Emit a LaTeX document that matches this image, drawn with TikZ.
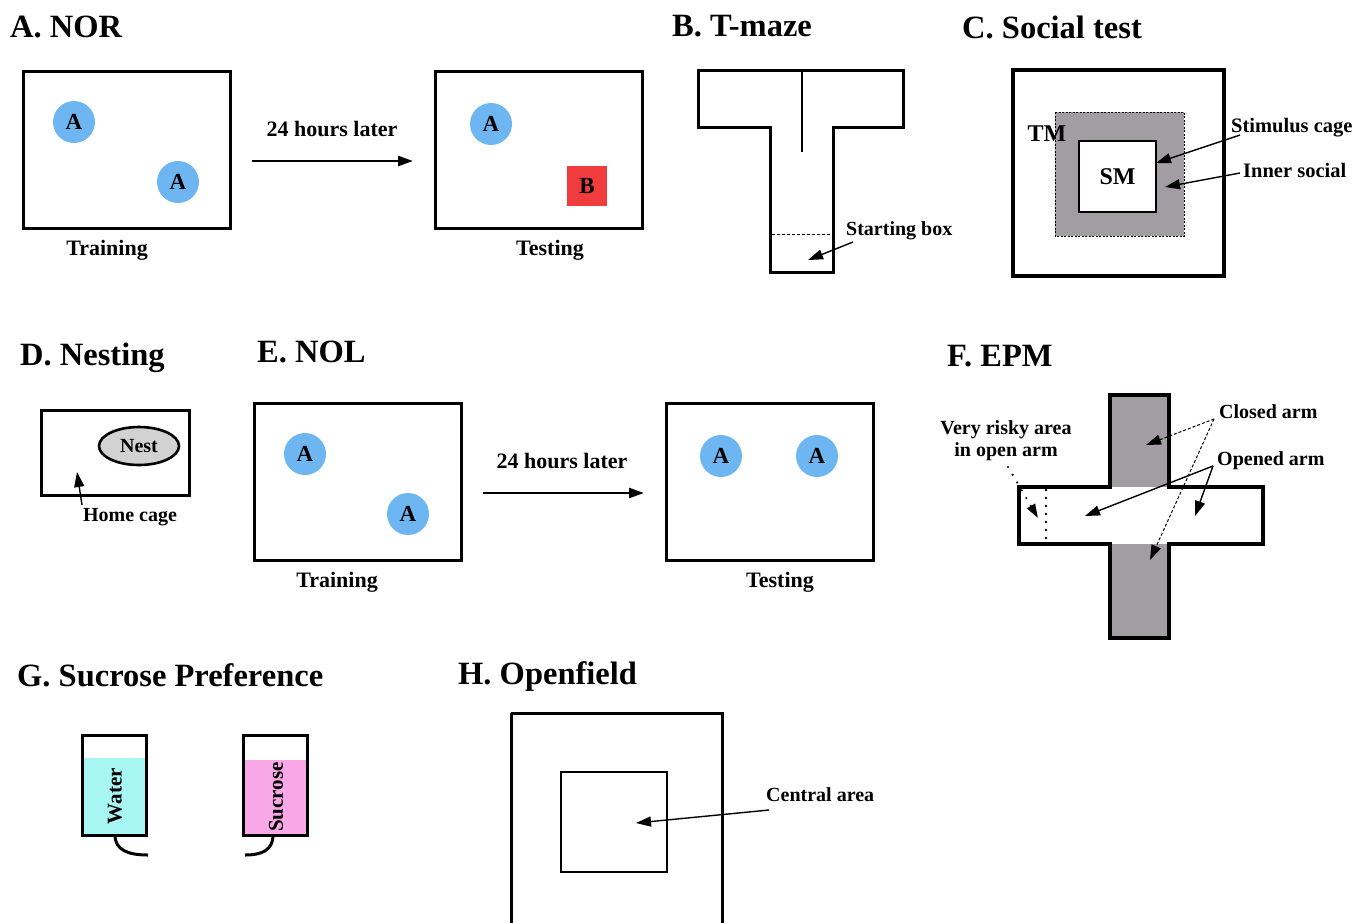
\documentclass[tikz,border=0pt]{standalone}
\usepackage{fontspec}
\setmainfont{Liberation Serif}
\usetikzlibrary{arrows.meta,shapes.geometric}
\definecolor{cblue}{HTML}{6DB6F2}
\definecolor{cred}{HTML}{F03C3C}
\definecolor{cgrey}{HTML}{A29DA2}
\definecolor{lgrey}{HTML}{D2D2D2}
\definecolor{wcyan}{HTML}{A8F6F4}
\definecolor{spink}{HTML}{F8A8E6}
\begin{document}
\begin{tikzpicture}[x=1pt,y=-1pt,
  ttl/.style={font=\bfseries\fontsize{32.5}{32.5}\selectfont, anchor=base west, inner sep=0},
  lbl/.style={font=\bfseries\fontsize{22}{22}\selectfont, inner sep=0},
  slbl/.style={font=\bfseries\fontsize{20}{22}\selectfont, inner sep=0},
  arr/.style={-{Triangle[length=15pt,width=10pt]}, line width=1.4pt},
  darr/.style={-{Triangle[length=15pt,width=10pt]}, line width=1pt, dash pattern=on 3pt off 2pt},
  circ/.style={circle, fill=cblue, minimum size=42pt, inner sep=0, font=\bfseries\fontsize{23}{23}\selectfont},
  arena/.style={draw, line width=3pt, rectangle, inner sep=0, outer sep=0, minimum width=207pt, minimum height=157pt}
]
\useasboundingbox (0,0) rectangle (1367,922);
\clip (0,0) rectangle (1367,922);

% ---------- A. NOR
\node[ttl] (tA) at (10,37) {A. NOR};
\node[arena] (norTr) at (126.5,149.5) {};
\node[circ] (norA1) at (74,122) {A};
\node[circ] (norA2) at (178,182) {A};
\node[lbl] (norTrL) at (107,250) {Training};
\node[arena] (norTe) at (538.5,149.5) {};
\node[circ] (norA3) at (491,124) {A};
\node[rectangle, fill=cred, minimum size=40pt, inner sep=0, font=\bfseries\fontsize{23}{23}\selectfont] (norB) at (587,186) {B};
\node[lbl] (norTeL) at (550,250) {Testing};
\node[lbl] (norT) at (332,129) {24 hours later};
\coordinate (norS) at (252,161);
\coordinate (norE) at (413,161);
\draw[-{Triangle[length=15pt,width=10pt]}, line width=2.6pt] (norS) -- (norE);

% ---------- B. T-maze
\node[ttl] (tB) at (672,36) {B. T-maze};
\draw[line width=3pt] (698,70) -- (903,70) -- (903,127) -- (833,127) -- (833,272) -- (770,272) -- (770,127) -- (698,127) -- cycle;
\draw[line width=2.6pt] (802,70) -- (802,152);
\draw[line width=1pt, dash pattern=on 3pt off 2pt] (772,234) -- (832,234);
\node[slbl, anchor=west] (sbox) at (846,231) {Starting box};
\coordinate (sboxT) at (808,260);
\draw[arr] (853,242) -- (sboxT);

% ---------- C. Social test
\node[ttl] (tC) at (962,38) {C. Social test};
\draw[line width=3.2pt] (1013,70) rectangle (1224,276);
\draw[fill=cgrey, line width=0.8pt, dash pattern=on 2pt off 1.5pt] (1055,112) rectangle (1184,236);
\node[draw, fill=white, line width=1.5pt, minimum width=77pt, minimum height=71pt, inner sep=0, font=\bfseries\fontsize{24}{24}\selectfont] (sm) at (1117.5,176.5) {SM};
\node[font=\bfseries\fontsize{24}{24}\selectfont, inner sep=0] (tm) at (1047,134) {TM};
\node[font=\bfseries\fontsize{20.5}{22}\selectfont, inner sep=0, anchor=west] (stim) at (1231,128) {Stimulus cage};
\node[font=\bfseries\fontsize{20.5}{22}\selectfont, inner sep=0, anchor=west] (inner) at (1243,170) {Inner social};
\coordinate (stimT) at (1156,163);
\coordinate (innerT) at (1165,187);
\draw[arr] (1240,135) -- (stimT);
\draw[arr] (1240,173) -- (innerT);

% ---------- D. Nesting
\node[ttl] (tD) at (20,365) {D. Nesting};
\draw[line width=3pt] (41,410) rectangle (189,495);
\node[ellipse, draw, fill=lgrey, line width=2.6pt, minimum width=80pt, minimum height=38pt, inner sep=0, font=\bfseries\fontsize{20}{20}\selectfont] (nest) at (139,446) {Nest};
\node[slbl] (home) at (130,517) {Home cage};
\coordinate (homeT) at (77,472);
\draw[arr] (82,505) -- (homeT);

% ---------- E. NOL
\node[ttl] (tE) at (257,362) {E. NOL};
\node[arena] (nolTr) at (357.5,481.5) {};
\node[circ] (nolA1) at (305,454) {A};
\node[circ] (nolA2) at (408,514) {A};
\node[lbl] (nolTrL) at (337,582) {Training};
\node[arena] (nolTe) at (769.5,481.5) {};
\node[circ] (nolA3) at (721,456) {A};
\node[circ] (nolA4) at (817,456) {A};
\node[lbl] (nolTeL) at (780,582) {Testing};
\node[lbl] (nolT) at (562,461) {24 hours later};
\coordinate (nolS) at (483,493);
\coordinate (nolE) at (644,493);
\draw[-{Triangle[length=15pt,width=10pt]}, line width=2.6pt] (nolS) -- (nolE);

% ---------- F. EPM
\node[ttl] (tF) at (947,366) {F. EPM};
\fill[cgrey] (1110,395) rectangle (1169,638);
\fill[white] (1019,487) rectangle (1263,544);
\draw[line width=3.2pt] (1110,395) -- (1169,395) -- (1169,487) -- (1263,487) -- (1263,544) -- (1169,544) -- (1169,638) -- (1110,638) -- (1110,544) -- (1019,544) -- (1019,487) -- (1110,487) -- cycle;
\draw[line width=2.8pt, line cap=round, dash pattern=on 0pt off 8pt] (1046,490) -- (1046,542);
\node[slbl, align=center] (risky) at (1006,441) {Very risky area\\in open arm};
\node[slbl, anchor=west] (closed) at (1219,412) {Closed arm};
\node[slbl, anchor=west] (opened) at (1217,461) {Opened arm};
\coordinate (riskyT) at (1038,518);
\coordinate (closedT1) at (1146,445);
\coordinate (closedT2) at (1150,560);
\coordinate (openT1) at (1085,516);
\coordinate (openT2) at (1195,516);
\draw[-{Triangle[length=14pt,width=9pt]}, line width=2.4pt, line cap=round, dash pattern=on 0pt off 9pt] (1008,467) -- (riskyT);
\draw[darr] (1214,419) -- (closedT1);
\draw[darr] (1214,419) -- (closedT2);
\draw[arr] (1213,466) -- (openT1);
\draw[arr] (1213,466) -- (openT2);

% ---------- G. Sucrose Preference
\node[ttl] (tG) at (17,686) {G. Sucrose Preference};
\fill[wcyan] (82,758) rectangle (146,835);
\draw[line width=3pt] (82,735) rectangle (146,835);
\node[font=\bfseries\fontsize{21}{21}\selectfont, inner sep=0, rotate=90] (water) at (115,796) {Water};
\draw[line width=3pt] (115,835) .. controls (115,850) and (128,855) .. (148,855);
\fill[spink] (243,760) rectangle (307,835);
\draw[line width=3pt] (243,735) rectangle (307,835);
\node[font=\bfseries\fontsize{21}{21}\selectfont, inner sep=0, rotate=90] (sucr) at (276,797) {Sucrose};
\draw[line width=3pt] (273,835) .. controls (273,850) and (262,855) .. (245,855);

% ---------- H. Openfield
\node[ttl] (tH) at (458,684) {H. Openfield};
\draw[line width=3pt] (511,713) -- (722,713) -- (722,940) (511,940) -- (511,713);
\node[draw, line width=2.2pt, minimum width=106pt, minimum height=100pt, inner sep=0] (central) at (614,822) {};
\node[slbl, anchor=west] (cent) at (766,795) {Central area};
\coordinate (centT) at (636,823);
\draw[arr] (769,810) -- (centT);
\end{tikzpicture}
\end{document}
